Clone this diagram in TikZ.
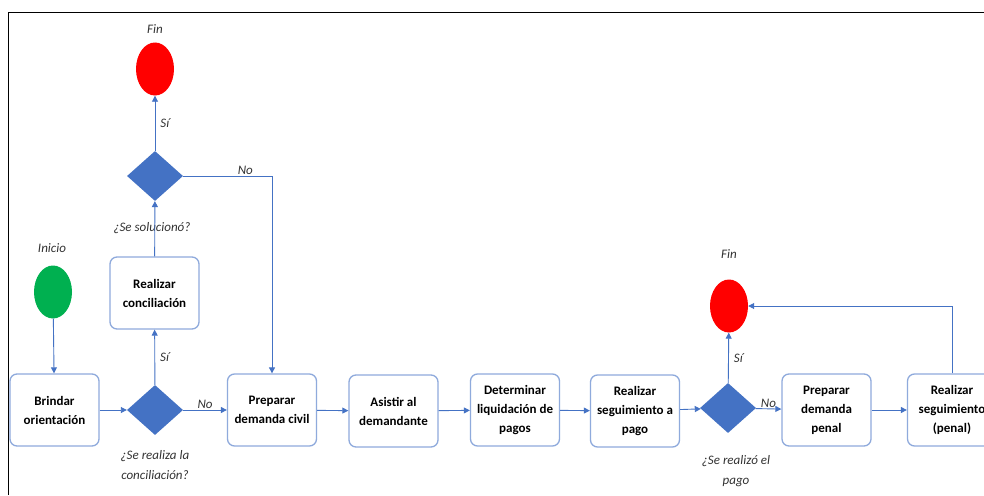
\documentclass[tikz,border=0pt]{standalone}
\usepackage{fontspec}
\setmainfont{Carlito}
\usetikzlibrary{shapes.geometric,arrows.meta}
\definecolor{linea}{HTML}{4472C4}
\definecolor{borde}{HTML}{8FAADC}
\definecolor{rojo}{HTML}{FF0000}
\definecolor{verde}{HTML}{00B050}
\begin{document}
\begin{tikzpicture}[x=1pt, y=-1pt,
    paso/.style={draw=borde, line width=1.3pt, rounded corners=7pt, fill=white,
      minimum width=89pt, minimum height=72pt, align=center, inner sep=2pt,
      font=\fontsize{13}{19}\selectfont\bfseries},
    decision/.style={diamond, fill=linea, minimum width=56pt, minimum height=50pt, inner sep=0pt},
    evento/.style={ellipse, minimum width=38pt, minimum height=53pt, inner sep=0pt},
    etiqueta/.style={font=\fontsize{13}{20}\selectfont\itshape, text=black!80, align=center, inner sep=1pt},
    flecha/.style={draw=linea, line width=0.9pt, -{Triangle[length=6pt,width=6pt]}}]

    \clip (0,0) rectangle (984,495);
    \fill[white] (0,0) rectangle (984,495);

    % marco
    \draw[line width=1.5pt] (8.5,495) -- (8.5,12.5) -- (984,12.5);

    % eventos y decisiones
    \node[evento, fill=rojo] (fin1) at (155,69) {};
    \node[evento, fill=verde] (inicio) at (53,292) {};
    \node[evento, fill=rojo] (fin2) at (729,306) {};
    \node[decision] (soluciono) at (155,176) {};
    \node[decision] (concilia) at (155,410) {};
    \node[decision] (pago) at (728,408) {};

    % pasos
    \node[paso] (brindar) at (54.5,410) {Brindar\\orientación};
    \node[paso] (conciliar) at (154.5,293) {Realizar\\conciliación};
    \node[paso] (civil) at (272,410) {Preparar\\demanda civil};
    \node[paso] (asistir) at (393.5,411) {Asistir al\\demandante};
    \node[paso] (liquidar) at (515,410) {Determinar\\liquidación de\\pagos};
    \node[paso] (seguir) at (635,411) {Realizar\\seguimiento a\\pago};
    \node[paso] (penal) at (826.5,410) {Preparar\\demanda\\penal};
    \node[paso] (segpenal) at (952,410) {Realizar\\seguimiento\\(penal)};

    % textos sueltos
    \node[etiqueta] (tfin1) at (155,29) {Fin};
    \node[etiqueta] (tinicio) at (52,248) {Inicio};
    \node[etiqueta] (tsoluciono) at (152,228) {¿Se solucionó?};
    \node[etiqueta] (tconcilia) at (155,465) {¿Se realiza la\\conciliación?};
    \node[etiqueta] (tfin2) at (729,254) {Fin};
    \node[etiqueta] (tpago) at (736,471) {¿Se realizó el\\pago};

    % conectores
    \draw[flecha] (inicio) -- (brindar);
    \draw[flecha] (brindar) -- (concilia);
    \draw[flecha] (concilia) -- node[etiqueta, right=4pt] {Sí} (conciliar);
    \draw[flecha] (concilia) -- node[etiqueta, above] {No} (civil);
    \draw[flecha] (conciliar) -- (soluciono);
    \draw[flecha] (soluciono) -- node[etiqueta, right=4pt] {Sí} (fin1);
    \draw[flecha] (soluciono.east) -| node[etiqueta, above, pos=0.35] {No} (civil.north);
    \draw[flecha] (civil) -- (asistir);
    \draw[flecha] (asistir) -- (liquidar);
    \draw[flecha] (liquidar) -- (seguir);
    \draw[flecha] (seguir) -- (pago);
    \draw[flecha] (pago) -- node[etiqueta, right=4pt] {Sí} (fin2);
    \draw[flecha] (pago) -- node[etiqueta, above] {No} (penal);
    \draw[flecha] (penal) -- (segpenal);
    \draw[flecha] (segpenal.north) |- (fin2.east);
\end{tikzpicture}
\end{document}
